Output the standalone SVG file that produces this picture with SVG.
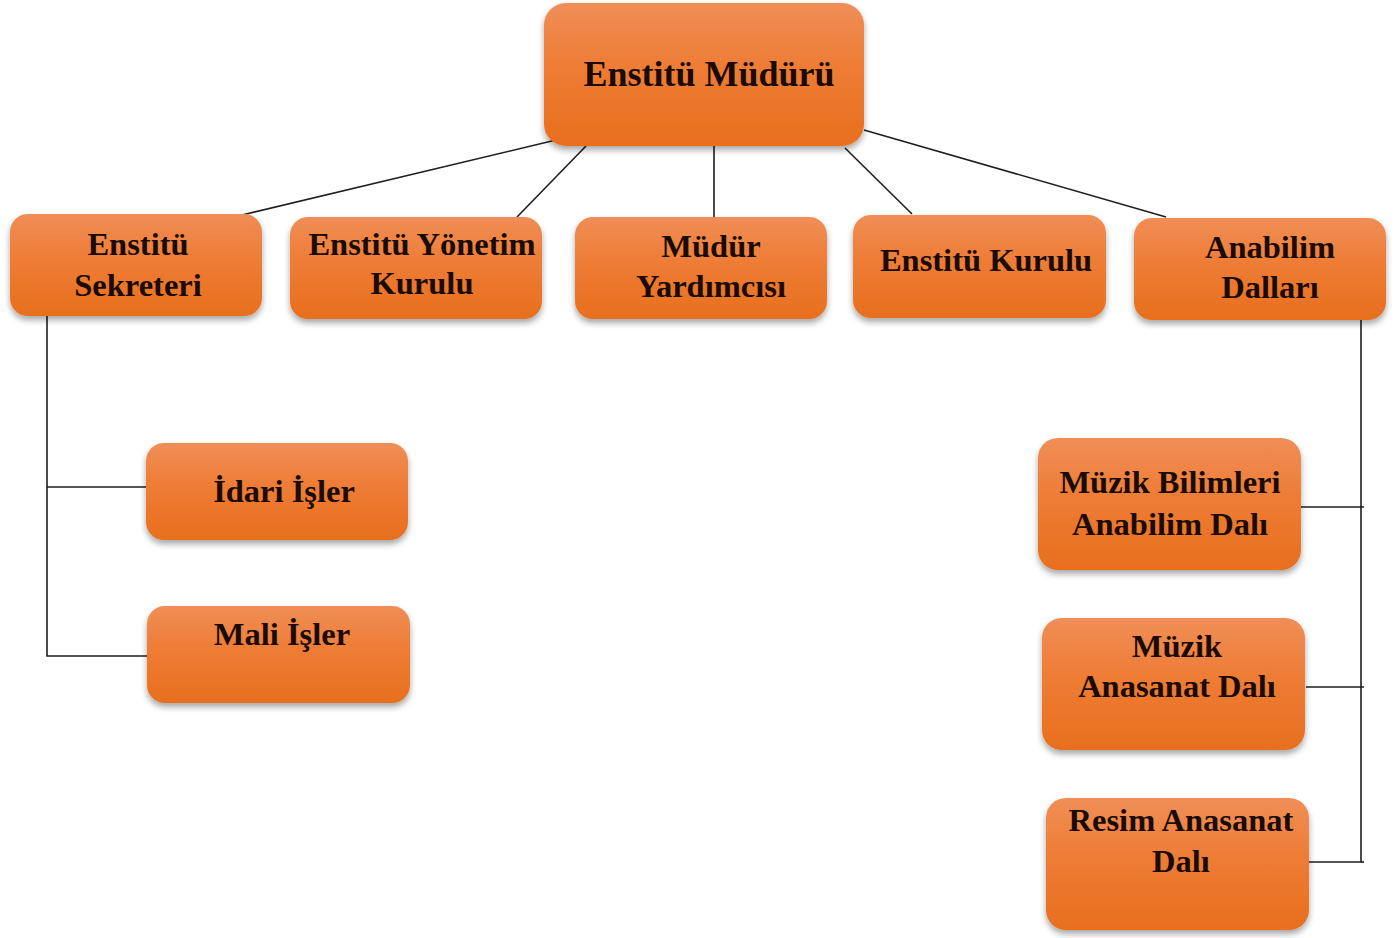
<svg xmlns="http://www.w3.org/2000/svg" width="1395" height="938" viewBox="0 0 1395 938">
<defs>
<linearGradient id="og" x1="0" y1="0" x2="0" y2="1">
<stop offset="0" stop-color="#F08E57"/>
<stop offset="0.45" stop-color="#EE7C35"/>
<stop offset="1" stop-color="#E86F1E"/>
</linearGradient>
<filter id="sh" x="-10%" y="-10%" width="120%" height="130%">
<feDropShadow dx="0" dy="4" stdDeviation="3" flood-color="#000" flood-opacity="0.35"/>
</filter>
</defs>
<style>
.box{fill:url(#og);filter:url(#sh);}
.t{font-family:"Liberation Serif","Times New Roman",serif;font-weight:bold;font-size:32.5px;fill:#1a0c04;text-anchor:middle;}
.big{font-size:36px;}
.c{stroke:#1e1e1e;stroke-width:1.6;fill:none;}
</style>
<rect width="1395" height="938" fill="#ffffff"/>
<g id="connectors">
<line class="c" x1="556" y1="140" x2="242" y2="215"/>
<line class="c" x1="586" y1="146" x2="517" y2="217"/>
<line class="c" x1="714" y1="146" x2="714" y2="218"/>
<line class="c" x1="845" y1="148" x2="912" y2="214"/>
<line class="c" x1="864" y1="130" x2="1166" y2="217"/>
<polyline class="c" points="47,316 47,656 148,656"/>
<line class="c" x1="47" y1="487" x2="148" y2="487"/>
<polyline class="c" points="1361,320 1361,862 1309,862"/>
<line class="c" x1="1301" y1="507" x2="1364" y2="507"/>
<line class="c" x1="1306" y1="687" x2="1364" y2="687"/>
<line class="c" x1="1361" y1="862" x2="1364" y2="862"/>
</g>
<g id="n-mudur">
<rect class="box" x="544" y="3" width="320" height="143" rx="22"/>
<text class="t big" x="709" y="86">Enstitü Müdürü</text>
</g>
<g id="n-sekreter">
<rect class="box" x="10" y="214" width="252" height="102" rx="18"/>
<text class="t" x="138" y="255">Enstitü</text>
<text class="t" x="138" y="296">Sekreteri</text>
</g>
<g id="n-yonetim">
<rect class="box" x="290" y="217" width="252" height="102" rx="18"/>
<text class="t" x="422" y="255">Enstitü Yönetim</text>
<text class="t" x="422" y="294">Kurulu</text>
</g>
<g id="n-yardimci">
<rect class="box" x="575" y="217" width="252" height="102" rx="18"/>
<text class="t" x="711" y="257">Müdür</text>
<text class="t" x="711" y="297">Yardımcısı</text>
</g>
<g id="n-kurul">
<rect class="box" x="853" y="215" width="253" height="103" rx="18"/>
<text class="t" x="986" y="271">Enstitü Kurulu</text>
</g>
<g id="n-anabilim">
<rect class="box" x="1134" y="218" width="252" height="102" rx="18"/>
<text class="t" x="1270" y="258">Anabilim</text>
<text class="t" x="1270" y="298">Dalları</text>
</g>
<g id="n-idari">
<rect class="box" x="146" y="443" width="262" height="97" rx="18"/>
<text class="t" x="284" y="502">İdari İşler</text>
</g>
<g id="n-mali">
<rect class="box" x="147" y="606" width="263" height="97" rx="18"/>
<text class="t" x="282" y="645">Mali İşler</text>
</g>
<g id="n-muzikbilim">
<rect class="box" x="1038" y="438" width="263" height="132" rx="20"/>
<text class="t" x="1170" y="493">Müzik Bilimleri</text>
<text class="t" x="1170" y="535">Anabilim Dalı</text>
</g>
<g id="n-muzikanasanat">
<rect class="box" x="1042" y="618" width="263" height="132" rx="20"/>
<text class="t" x="1177" y="657">Müzik</text>
<text class="t" x="1177" y="697">Anasanat Dalı</text>
</g>
<g id="n-resim">
<rect class="box" x="1046" y="798" width="263" height="132" rx="20"/>
<text class="t" x="1181" y="831">Resim Anasanat</text>
<text class="t" x="1181" y="872">Dalı</text>
</g>
</svg>
